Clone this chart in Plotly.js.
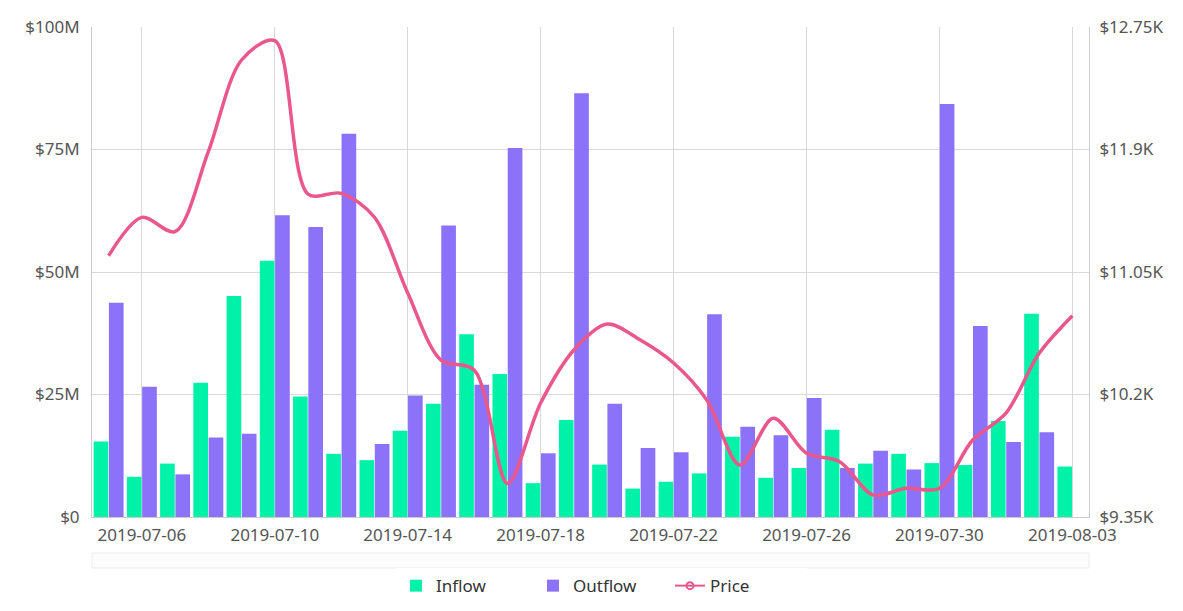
<!DOCTYPE html>
<html>
<head>
<meta charset="utf-8">
<script src="https://cdn.plot.ly/plotly-3.0.1.min.js"></script>
<style>html,body{margin:0;padding:0;background:#fff;}#chart{width:1183px;height:611px;}</style>
</head>
<body>
<div id="chart"></div>
<script>
const dates = ["2019-07-05","2019-07-06","2019-07-07","2019-07-08","2019-07-09","2019-07-10","2019-07-11","2019-07-12","2019-07-13","2019-07-14","2019-07-15","2019-07-16","2019-07-17","2019-07-18","2019-07-19","2019-07-20","2019-07-21","2019-07-22","2019-07-23","2019-07-24","2019-07-25","2019-07-26","2019-07-27","2019-07-28","2019-07-29","2019-07-30","2019-07-31","2019-08-01","2019-08-02","2019-08-03"];
const inflow = [15.4,8.2,10.9,27.4,45.1,52.3,24.6,12.9,11.6,17.6,23.1,37.3,29.2,6.9,19.8,10.7,5.8,7.2,8.9,16.4,8.0,10.0,17.8,10.9,12.9,11.0,10.6,19.6,41.5,10.3];
const outflow = [43.7,26.6,8.7,16.2,17.0,61.6,59.2,78.2,14.9,24.8,59.5,27.0,75.3,13.0,86.5,23.1,14.1,13.2,41.4,18.4,16.7,24.3,10.0,13.5,9.7,84.3,39.0,15.3,17.3,0];
const price = [11163,11429,11330,11885,12521,12655,11591,11596,11430,10904,10439,10370,9584,10141,10509,10689,10578,10419,10162,9711,10035,9792,9734,9503,9549,9549,9884,10070,10486,10747];
const xTicks = ["2019-07-06","2019-07-10","2019-07-14","2019-07-18","2019-07-22","2019-07-26","2019-07-30","2019-08-03"];
const leftTickVals = [0,25,50,75,100];
const leftTickText = ["$0","$25M","$50M","$75M","$100M"];
const rightTickVals = [9350,10200,11050,11900,12750];
const rightTickText = ["$9.35K","$10.2K","$11.05K","$11.9K","$12.75K"];

const font = "Noto Sans, Lato, sans-serif";
const traces = [
  {type:"bar", name:"Inflow", x:dates, y:inflow, marker:{color:"#00f2a9"}},
  {type:"bar", name:"Outflow", x:dates, y:outflow, marker:{color:"#8b72f9"}},
  {type:"scatter", mode:"lines", name:"Price", x:dates, y:price, yaxis:"y2", showlegend:false,
   line:{color:"#e9578c", width:3.5, shape:"spline", smoothing:0.9}},
  {type:"scatter", mode:"lines+markers", name:"Price", x:[null], y:[null], yaxis:"y2",
   line:{color:"#e9578c", width:2}, marker:{symbol:"circle-open", size:7, color:"#e9578c", line:{width:2}}}
];
const layout = {
  width:1183, height:611,
  margin:{l:92, r:94, t:27, b:94, autoexpand:false},
  paper_bgcolor:"#fff", plot_bgcolor:"#fff",
  barmode:"group", bargap:0.08, bargroupgap:0.04,
  font:{family:font, size:17, color:"#555"},
  xaxis:{type:"category", tickmode:"array", tickvals:xTicks, ticktext:xTicks,
    showgrid:true, gridcolor:"#d9d9d9", gridwidth:1, ticks:"", showline:true, linecolor:"#cccccc",
    ticklabelstandoff:3, tickfont:{family:font, size:17, color:"#555"}, range:[-0.5,29.5]},
  yaxis:{range:[0,100], tickmode:"array", tickvals:leftTickVals, ticktext:leftTickText,
    showgrid:true, gridcolor:"#d9d9d9", zeroline:false, showline:true, linecolor:"#cccccc",
    ticks:"", ticklabelstandoff:8, tickfont:{family:font, size:17, color:"#555"}},
  yaxis2:{overlaying:"y", side:"right", range:[9350,12750], tickmode:"array", tickvals:rightTickVals,
    ticktext:rightTickText, showgrid:false, zeroline:false, showline:true, linecolor:"#cccccc",
    ticks:"", ticklabelstandoff:6, tickfont:{family:font, size:17, color:"#555"}},
  legend:{orientation:"h", x:0.511, xanchor:"center", y:-0.141, yanchor:"middle",
    font:{family:font, size:17, color:"#333"}, itemwidth:30, entrywidth:92},
  shapes:[
    {type:"rect", xref:"paper", yref:"paper", x0:0, x1:1, y0:-0.0735, y1:-0.104,
     line:{color:"#ececec", width:1}, fillcolor:"#fcfcfc"}
  ],
  showlegend:true
};
Plotly.newPlot("chart", traces, layout, {displayModeBar:false, staticPlot:true});
</script>
</body>
</html>
